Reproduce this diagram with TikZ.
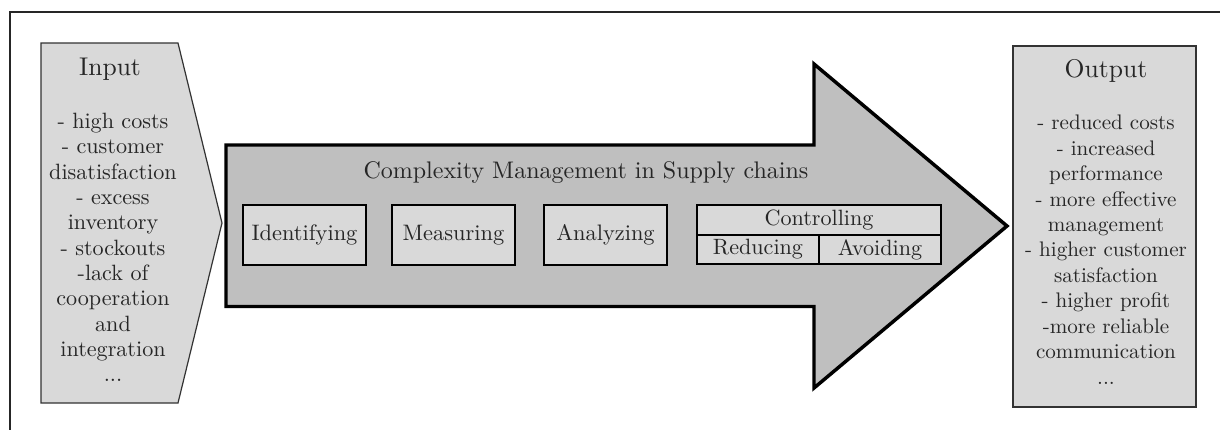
\documentclass[tikz,border=0pt]{standalone}
\usepackage{graphicx}
\definecolor{arrowgray}{HTML}{BFBFBF}
\definecolor{boxgray}{HTML}{D9D9D9}
\definecolor{txt}{HTML}{262626}
\newcommand{\linesat}[3]{\scalebox{#1}{\fontsize{10}{#2}\selectfont\begin{tabular}{@{}c@{}}#3\end{tabular}}}
\begin{document}
\begin{tikzpicture}[x=0.75pt,y=-0.75pt,
  framelines/.style={line width=0.9pt, draw=black!85},
  sidebox/.style={fill=boxgray, draw=black!80, line width=0.9pt, line join=miter},
  bigarrow/.style={fill=arrowgray, draw=black, line width=2.6pt, line join=miter},
  label/.style={text=txt, inner sep=0pt},
  stepbox/.style={fill=boxgray, draw=black, line width=1.5pt, minimum width=92.25pt,
    minimum height=45pt, inner sep=0pt, text=txt},
  cellbox/.style={fill=boxgray, draw=black, line width=1.5pt, inner sep=0pt, text=txt},
  heading/.style={label, anchor=base},
  listtext/.style={label, anchor=north}
]
\useasboundingbox (0,0) rectangle (1220,430);
% outer frame (top and left edges)
\draw[framelines] (1220,12) -- (10,12) -- (10,430);
% input side shape
\draw[sidebox] (41,43) -- (178,43) -- (222,223) -- (178,403) -- (41,403) -- cycle;
\node[heading] (inhead) at (110,75) {\scalebox{1.92}{Input}};
\node[listtext] (inbody) at (113,110.3)
  {\linesat{1.66}{11.45pt}{- high costs\\- customer\\disatisfaction\\- excess\\inventory\\- stockouts\\-lack of\\cooperation\\and\\integration\\...}};
% output box
\draw[sidebox] (1013,46) rectangle (1196,407);
\node[heading] (outhead) at (1106,77) {\scalebox{1.92}{Output}};
\node[listtext] (outbody) at (1106,111.5)
  {\linesat{1.58}{12.09pt}{- reduced costs\\- increased\\performance\\- more effective\\management\\- higher customer\\satisfaction\\- higher profit\\-more reliable\\communication\\...}};
% big arrow
\draw[bigarrow] (226,145) -- (814,145) -- (814,64) -- (1007,226) -- (814,388) -- (814,306.5) -- (226,306.5) -- cycle;
\node[heading] (title) at (586,178) {\scalebox{1.8}{Complexity Management in Supply chains}};
% steps
\node[stepbox] (ident) at (304.5,235) {\scalebox{1.68}{Identifying}};
\node[stepbox] (meas) at (453.5,235) {\scalebox{1.68}{Measuring}};
\node[stepbox] (anal) at (605.5,235) {\scalebox{1.68}{Analyzing}};
\node[cellbox, minimum width=183pt, minimum height=22.5pt] (ctrl) at (819,220) {\scalebox{1.66}{Controlling}};
\node[cellbox, minimum width=91.5pt, minimum height=21.75pt] (red) at (758,249.5) {\scalebox{1.66}{Reducing}};
\node[cellbox, minimum width=91.5pt, minimum height=21.75pt] (avoid) at (880,249.5) {\scalebox{1.66}{Avoiding}};
\end{tikzpicture}
\end{document}
